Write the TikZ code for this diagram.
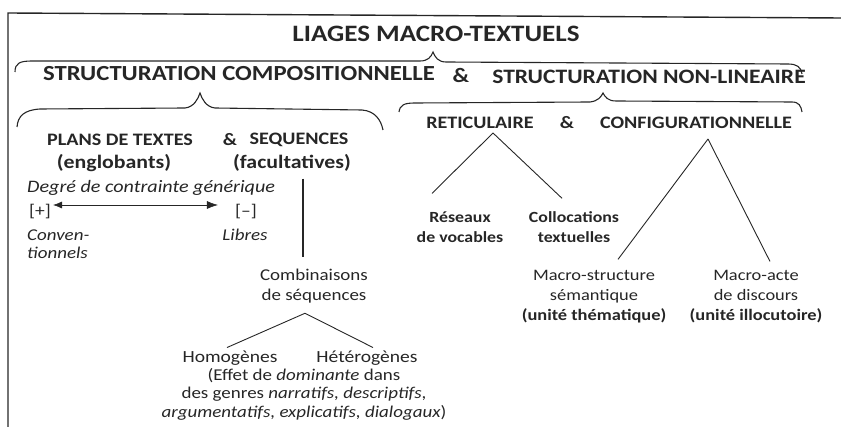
\documentclass[tikz,border=0pt]{standalone}
\usepackage{fontspec}
\setmainfont{Carlito}[FakeStretch=1.15]
\usetikzlibrary{arrows.meta}
\colorlet{ink}{black!85}

\begin{document}
\begin{tikzpicture}[x=1pt, y=-1pt,
every node/.style={inner sep=1pt, text=ink},
title/.style={font=\fontsize{23.5}{26}\selectfont\bfseries},
level/.style={font=\fontsize{20.5}{23}\selectfont\bfseries},
head/.style={font=\fontsize{17.5}{20}\selectfont\bfseries, align=center},
leaf/.style={font=\fontsize{16.5}{20}\selectfont, align=center},
note/.style={font=\fontsize{16.5}{18}\selectfont\itshape, align=left},
brace/.style={line width=1.1pt, draw=ink},
branch/.style={line width=0.9pt, draw=ink}
]
\useasboundingbox (0,0) rectangle (841,427);

% frame
\draw[line width=1.4pt, ink] (8,427) -- (8,13) -- (841,18);

% headings
\node[title] (tit) at (436,34) {LIAGES MACRO-TEXTUELS};
\node[level, font=\fontsize{21.5}{23}\selectfont\bfseries] (sc) at (239,74) {STRUCTURATION COMPOSITIONNELLE};
\node[level] (amp1) at (461,76) {\&};
\node[level] (snl) at (649,77) {STRUCTURATION NON-LINEAIRE};

\node[head] (plans) at (120,140) {PLANS DE TEXTES};
\node[head] (amp2) at (230,140) {\&};
\node[head] (seq) at (299,140) {SEQUENCES};
\node[head, font=\fontsize{19}{20}\selectfont\bfseries] (eng) at (114,163) {(englobants)};
\node[head, font=\fontsize{19}{20}\selectfont\bfseries] (fac) at (292,163) {(facultatives)};

\node[head] (ret) at (480,123) {RETICULAIRE};
\node[head] (amp3) at (567,123) {\&};
\node[head] (conf) at (696,123) {CONFIGURATIONNELLE};

% braces
\draw[brace] (15,72) .. controls (15,63) and (20,61) .. (32,61) -- (420,61)
  .. controls (428,61) and (431,57) .. (433,52) .. controls (435,57) and (438,62) .. (446,62)
  -- (788,64) .. controls (797,64) and (801,67) .. (802,74);
\draw[brace] (17,127) .. controls (18,116) and (24,110) .. (40,109) -- (185,108)
  .. controls (194,107) and (198,99) .. (200,93) .. controls (202,99) and (206,107) .. (215,108)
  -- (362,110) .. controls (375,111) and (381,120) .. (383,130);
\draw[brace] (399,112) .. controls (400,105) and (404,103) .. (415,103) -- (590,102)
  .. controls (598,101) and (601,97) .. (603,93) .. controls (605,97) and (608,101) .. (616,101)
  -- (792,102) .. controls (799,102) and (801,106) .. (802,112);

% left part
\node[note, anchor=west, font=\fontsize{17.5}{18}\selectfont\itshape] (deg) at (26,188) {Degré de contrainte générique};
\node[leaf, font=\fontsize{17}{20}\selectfont] (plus) at (40,212) {[+]};
\node[leaf, font=\fontsize{17}{20}\selectfont] (minus) at (246,212) {[--]};
\node[note, anchor=west] (conv) at (26,244) {Conven-\\tionnels};
\node[note] (lib) at (245,235) {Libres};
\draw[{Latex[length=9pt,width=7pt]}-{Latex[length=11pt,width=8pt]}, line width=0.6pt, ink]
  ([xshift=1pt,yshift=7pt]plus.east) -- ([xshift=-16pt,yshift=7pt]minus.west);

\node[leaf] (comb) at (314,286) {Combinaisons\\de séquences};
\node[leaf, font=\fontsize{17}{20}\selectfont] (hom) at (230,358) {Homogènes};
\node[leaf, font=\fontsize{17}{20}\selectfont] (het) at (367,358) {Hétérogènes};
\node[leaf, font=\fontsize{16.5}{18.5}\selectfont] (effet) at (304,394)
  {(Effet de \textit{dominante} dans\\des genres \textit{narratifs, descriptifs},\\\textit{argumentatifs, explicatifs, dialogaux})};

% right part
\node[leaf, font=\fontsize{15.5}{20}\selectfont\bfseries] (res) at (460,227) {Réseaux\\de vocables};
\node[leaf, font=\fontsize{15.5}{20}\selectfont\bfseries] (col) at (574,227) {Collocations\\textuelles};
\node[leaf, font=\fontsize{16}{20}\selectfont] (ms) at (594,297)
  {Macro-structure\\sémantique\\{\bfseries(unité thématique)}};
\node[leaf, font=\fontsize{16}{20}\selectfont] (ma) at (756,297)
  {Macro-acte\\de discours\\{\bfseries(unité illocutoire)}};

% branches
\draw[line width=2pt, ink] ([xshift=11pt,yshift=-6pt]fac.south) -- ([xshift=-11pt,yshift=11pt]comb.north);
\foreach \a/\ax/\ay/\b/\bx/\by in {ret/13/-3/res/-28/17, ret/13/-3/col/-12/12,
                   conf/12/-9/ms/24/10, conf/12/-9/ma/14/8,
                   comb/-9/-9/hom/-3/2, comb/-9/-9/het/6/2%
            }
    \draw[branch] ([xshift=\ax pt,yshift=\ay pt]\a.south) -- ([xshift=\bx pt,yshift=\by pt]\b.north);
\end{tikzpicture}
\end{document}
